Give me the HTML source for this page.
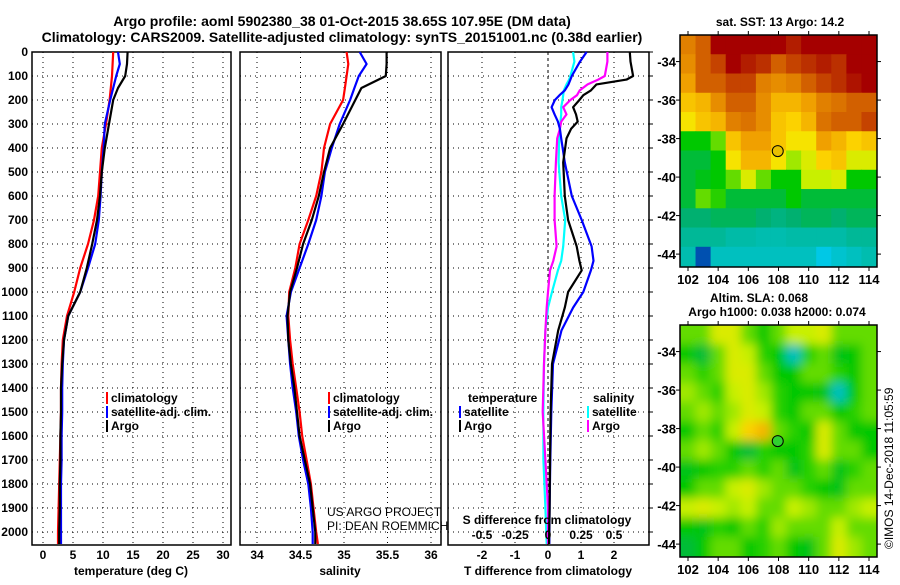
<!DOCTYPE html>
<html><head><meta charset="utf-8"><style>
body{margin:0;background:#fff;width:900px;height:580px;overflow:hidden}
svg text{font-family:"Liberation Sans",Arial,sans-serif;font-weight:bold;font-size:12px;fill:#000}
</style></head><body>
<svg id="c" width="900" height="580" xmlns="http://www.w3.org/2000/svg">
<text x="342" y="26" text-anchor="middle" style="font-size:14px">Argo profile: aoml 5902380_38 01-Oct-2015 38.65S 107.95E (DM data)</text>
<text x="342" y="42" text-anchor="middle" style="font-size:14px">Climatology: CARS2009. Satellite-adjusted climatology: synTS_20151001.nc (0.38d earlier)</text>
</svg>
<script>
// ---- profile data ----
const depthsP=[0,50,100,150,200,300,400,500,600,700,800,900,1000,1100,1200,1300,1400,1500,1600,1700,1800,1900,2000,2050];
const tempClim=[11.7,11.6,11.5,11.3,11.1,10.5,9.8,9.5,9.2,8.5,7.5,6.2,5.2,4.0,3.3,3.1,3.0,3.0,2.9,2.8,2.7,2.6,2.5,2.5];
const tempSat=[12.5,12.8,12.2,11.7,11.2,10.3,10.1,9.8,9.6,9.3,8.7,7.5,6.2,4.2,3.5,3.3,3.2,3.2,3.1,3.1,3.0,3.0,3.0,3.0];
const tempArgo=[14.1,14.0,13.7,12.5,11.7,11.0,10.3,9.8,9.5,9.0,8.2,7.3,6.2,4.2,3.5,3.2,3.0,3.0,2.9,2.9,2.8,2.8,2.7,2.7];
const salClim=[35.03,35.05,35.03,35.01,34.99,34.84,34.77,34.74,34.68,34.59,34.49,34.44,34.37,34.36,34.38,34.41,34.45,34.49,34.52,34.57,34.62,34.65,34.68,34.70];
const salSat=[35.18,35.26,35.17,35.12,35.07,34.95,34.86,34.78,34.74,34.68,34.59,34.49,34.39,34.34,34.36,34.38,34.41,34.45,34.48,34.53,34.59,34.62,34.64,34.64];
const salArgo=[35.49,35.49,35.48,35.2,35.13,34.99,34.84,34.77,34.71,34.63,34.53,34.46,34.38,34.35,34.36,34.39,34.43,34.46,34.49,34.55,34.61,34.64,34.67,34.67];
const depthsD=[0,40,100,115,135,160,180,200,230,260,290,320,360,460,600,700,810,870,910,1000,1065,1160,1300,1500,1700,1900,2050];
const tDiffArgo=[2.48,2.5,2.58,2.38,1.47,1.3,1.07,0.95,0.76,0.85,0.9,0.7,0.56,0.46,0.51,0.61,0.87,0.95,1.02,0.61,0.51,0.31,0.12,0.08,0.06,0.05,0.03];
const tDiffSat=[1.17,0.97,0.72,0.68,0.62,0.51,0.35,0.21,0.11,0.2,0.3,0.36,0.4,0.51,0.72,1.02,1.32,1.38,1.3,1.07,0.76,0.41,0.15,0.1,0.07,0.05,0.04];
const sDiffSat=[0.19,0.2,0.17,0.16,0.14,0.12,0.115,0.11,0.1,0.1,0.095,0.09,0.085,0.08,0.1,0.13,0.115,0.1,0.075,0.03,0.0,-0.02,-0.03,-0.035,-0.035,-0.02,-0.01];
const sDiffArgo=[0.45,0.45,0.43,0.38,0.3,0.24,0.22,0.17,0.115,0.14,0.1,0.09,0.07,0.06,0.05,0.05,0.065,0.04,0.015,0.0,-0.01,-0.02,-0.03,-0.04,-0.02,0.0,0.0];
const depthTicks=[0,100,200,300,400,500,600,700,800,900,1000,1100,1200,1300,1400,1500,1600,1700,1800,1900,2000];
const tempTicks=[0,5,10,15,20,25,30];
const salTicks=[34,34.5,35,35.5,36];
const tdTicks=[-2,-1,0,1,2];
const sdTicks=[-0.5,-0.25,0,0.25,0.5];
// ---- map data (1-degree cells, rows from -33 to -44, cols 102..114) ----
const lonTicks=[102,104,106,108,110,112,114];
const latTicks=[-34,-36,-38,-40,-42,-44];
const sstGrid=[
[0.8,0.85,0.95,0.95,0.95,0.95,0.95,0.92,0.95,0.95,0.95,0.95,0.95],
[0.78,0.85,0.88,0.95,0.92,0.9,0.85,0.88,0.9,0.92,0.9,0.95,0.95],
[0.75,0.85,0.85,0.88,0.88,0.8,0.78,0.8,0.85,0.88,0.9,0.93,0.95],
[0.7,0.72,0.78,0.85,0.85,0.78,0.72,0.72,0.75,0.8,0.82,0.85,0.85],
[0.65,0.7,0.72,0.8,0.82,0.78,0.7,0.68,0.72,0.82,0.85,0.85,0.88],
[0.5,0.5,0.55,0.7,0.75,0.75,0.7,0.65,0.65,0.75,0.72,0.68,0.7],
[0.45,0.45,0.5,0.65,0.72,0.72,0.65,0.58,0.62,0.68,0.7,0.62,0.62],
[0.45,0.48,0.5,0.55,0.62,0.55,0.5,0.5,0.6,0.6,0.62,0.5,0.5],
[0.45,0.55,0.52,0.45,0.45,0.45,0.45,0.5,0.45,0.45,0.45,0.45,0.45],
[0.4,0.4,0.42,0.42,0.42,0.4,0.38,0.4,0.42,0.42,0.4,0.42,0.42],
[0.35,0.35,0.35,0.33,0.33,0.32,0.32,0.33,0.33,0.33,0.33,0.35,0.35],
[0.32,0.1,0.3,0.3,0.3,0.3,0.3,0.3,0.3,0.25,0.28,0.3,0.32]];
const slaGrid=[
[0.55,0.55,0.62,0.62,0.55,0.5,0.55,0.6,0.6,0.62,0.55,0.55,0.55],
[0.5,0.45,0.55,0.62,0.6,0.52,0.5,0.3,0.52,0.55,0.48,0.5,0.55],
[0.55,0.52,0.55,0.62,0.62,0.55,0.5,0.5,0.55,0.55,0.52,0.5,0.55],
[0.58,0.55,0.52,0.6,0.62,0.58,0.52,0.5,0.5,0.48,0.3,0.5,0.55],
[0.55,0.58,0.55,0.58,0.62,0.6,0.52,0.5,0.55,0.55,0.5,0.52,0.55],
[0.5,0.55,0.52,0.6,0.68,0.72,0.55,0.52,0.5,0.62,0.55,0.5,0.5],
[0.55,0.58,0.55,0.5,0.45,0.52,0.5,0.5,0.52,0.62,0.55,0.55,0.5],
[0.48,0.5,0.52,0.52,0.55,0.52,0.55,0.48,0.52,0.55,0.48,0.52,0.55],
[0.5,0.55,0.55,0.6,0.62,0.58,0.55,0.55,0.52,0.5,0.48,0.55,0.55],
[0.6,0.62,0.6,0.58,0.6,0.55,0.55,0.6,0.58,0.55,0.55,0.58,0.6],
[0.5,0.48,0.52,0.5,0.55,0.52,0.58,0.55,0.55,0.55,0.6,0.55,0.55],
[0.45,0.5,0.55,0.55,0.5,0.52,0.55,0.5,0.48,0.55,0.62,0.58,0.55]];
const floatPos=[107.95,-38.65];

const NS="http://www.w3.org/2000/svg";
const svg=document.getElementById('c');
function mk(tag,attrs,parent){const e=document.createElementNS(NS,tag);for(const k in attrs)e.setAttribute(k,attrs[k]);(parent||svg).appendChild(e);return e;}
function txt(x,y,s,anchor,extra){const t=mk('text',Object.assign({x:x,y:y,'text-anchor':anchor||'start'},extra||{}));t.textContent=s;return t;}

const TOP=52,BOT=545;
const yD=d=>TOP+d*0.24;
const panels=[
 {name:'temperature',x0:32,x1:231,sx:v=>43+v*6},
 {name:'salinity',x0:240,x1:441,sx:v=>257+(v-34)*87},
 {name:'difference',x0:448,x1:649,sx:v=>548+v*33}];
const sxS=v=>548+v*4*33;

panels.forEach((p,pi)=>{
  const g=mk('g',{});
  
  
  depthTicks.forEach(d=>{
    const l=mk('line',{x1:p.x0,x2:p.x1,y1:yD(d),y2:yD(d),stroke:'#000','stroke-width':1,'stroke-dasharray':'1,4'},g);
    
    
  });
  const ticks=pi==0?tempTicks:pi==1?salTicks:tdTicks;
  ticks.forEach(v=>{
    const x=p.sx(v);
    const l=mk('line',{x1:x,x2:x,y1:TOP,y2:BOT,stroke:'#000','stroke-width':1,'stroke-dasharray':(pi==2&&v==0)?'3,3':'1,4'},g);
    
    
    const t=txt(x,559,String(v),'middle');
    
    
  });
  const r=mk('rect',{x:p.x0,y:TOP,width:p.x1-p.x0,height:BOT-TOP,fill:'none',stroke:'#000','stroke-width':1.5},g);
  
  
});
depthTicks.forEach(d=>{
  const t=txt(28,yD(d)+4,String(d),'end');
  
  
  const tk=mk('line',{x1:649,x2:653,y1:yD(d),y2:yD(d),stroke:'#000'});
  
  
});
[['temperature (deg C)',131],['salinity',340],['T difference from climatology',548]].forEach(a=>{
  const t=txt(a[1],575,a[0],'middle');
  
  
});

function line(depths,vals,sx,color,name){
  const pts=depths.map((d,i)=>sx(vals[i]).toFixed(1)+','+yD(d).toFixed(1)).join(' ');
  const p=mk('polyline',{points:pts,fill:'none',stroke:color,'stroke-width':2.2,'stroke-linejoin':'round'});
  
  
}
line(depthsP,tempClim,panels[0].sx,'#ff0000','temp-climatology-line');
line(depthsP,tempSat,panels[0].sx,'#0000ff','temp-satellite-line');
line(depthsP,tempArgo,panels[0].sx,'#000000','temp-argo-line');
line(depthsP,salClim,panels[1].sx,'#ff0000','sal-climatology-line');
line(depthsP,salSat,panels[1].sx,'#0000ff','sal-satellite-line');
line(depthsP,salArgo,panels[1].sx,'#000000','sal-argo-line');
line(depthsD,sDiffSat,sxS,'#00ffff','sdiff-satellite-line');
line(depthsD,sDiffArgo,sxS,'#ff00ff','sdiff-argo-line');
line(depthsD,tDiffSat,panels[2].sx,'#0000ff','tdiff-satellite-line');
line(depthsD,tDiffArgo,panels[2].sx,'#000000','tdiff-argo-line');

function legend(x,y,color,label){
  const b=mk('rect',{x:x,y:y-10,width:2,height:12,fill:color});
  
  
  const t=txt(x+5,y,label);
  
  
}
legend(106,402,'#ff0000','climatology');legend(106,416,'#0000ff','satellite-adj. clim.');legend(106,430,'#000','Argo');
legend(328,402,'#ff0000','climatology');legend(328,416,'#0000ff','satellite-adj. clim.');legend(328,430,'#000','Argo');
let t;
t=txt(468,402,'temperature');
t=txt(593,402,'salinity');
legend(459,416,'#0000ff','satellite');legend(459,430,'#000','Argo');
legend(587,416,'#00ffff','satellite');legend(587,430,'#ff00ff','Argo');
t=txt(327,516,'US ARGO PROJECT','start',{style:'font-weight:normal'});
t=txt(327,530,'PI: DEAN ROEMMICH','start',{style:'font-weight:normal'});
t=txt(547,524,'S difference from climatology','middle');
sdTicks.forEach(v=>{const tt=txt(sxS(v),539,String(v),'middle');});

// ---- maps ----
const stops=[[0,[0,0,140]],[0.25,[0,200,230]],[0.4,[0,176,112]],[0.5,[0,200,0]],[0.6,[200,240,0]],[0.66,[255,224,0]],[0.75,[240,160,0]],[0.85,[210,96,0]],[0.95,[165,0,0]],[1,[150,0,0]]];
function cmap(v){for(let i=1;i<stops.length;i++){if(v<=stops[i][0]){const a=stops[i-1],b=stops[i],f=(v-a[0])/(b[0]-a[0]);const c=a[1].map((x,k)=>Math.round(x+(b[1][k]-x)*f));return 'rgb('+c.join(',')+')';}}return 'rgb(150,0,0)';}
const defs=mk('defs',{});
const flt=mk('filter',{id:'blur',x:'-10%',y:'-10%',width:'120%',height:'120%'},defs);
mk('feGaussianBlur',{stdDeviation:5},flt);
function map(top,bot,grid,name,blur,titles,markerFill){
  const x0=680,x1=877;
  const lx=l=>x0+(l-101.47)*(x1-x0)/13.06;
  const ppd=(bot-top)/12.05;
  const ly=la=>top+(-32.62-la)*ppd;
  const cp=mk('clipPath',{id:'clip'+name},defs);
  mk('rect',{x:x0,y:top,width:x1-x0,height:bot-top},cp);
  const g=mk('g',{'clip-path':'url(#clip'+name+')'});
  
  
  const inner=mk('g',blur?{filter:'url(#blur)'}:{},g);
  grid.forEach((row,r)=>row.forEach((v,c)=>{
    const pad=blur?(c==0||c==12||r==0||r==11?12:0):0;
    const xa=lx(101.5+c),ya=ly(-32.62-r);
    const cell=mk('rect',{x:xa-(c==0?pad:0),y:ya-(r==0?pad:0),width:lx(102.5+c)-xa+0.6+(c==0||c==12?pad:0),height:ppd+0.6+(r==0||r==11?pad:0),fill:cmap(v)},inner);
    
    
  }));
  const fr=mk('rect',{x:x0,y:top,width:x1-x0,height:bot-top,fill:'none',stroke:'#000','stroke-width':1.5});
  
  
  lonTicks.forEach(l=>{
    mk('line',{x1:lx(l),x2:lx(l),y1:top-4,y2:top,stroke:'#000'});
    mk('line',{x1:lx(l),x2:lx(l),y1:bot,y2:bot+4,stroke:'#000'});
    const tt=txt(lx(l),bot+17,String(l),'middle',{style:'font-size:13px'});
    
    
  });
  latTicks.forEach(la=>{
    mk('line',{x1:x1,x2:x1+4,y1:ly(la),y2:ly(la),stroke:'#000'});
    mk('line',{x1:x0-4,x2:x0,y1:ly(la),y2:ly(la),stroke:'#000'});
    const tt=txt(676,ly(la)+5,String(la),'end',{style:'font-size:13px'});
    
    
  });
  const m=mk('circle',{cx:lx(floatPos[0]),cy:ly(floatPos[1]),r:5.5,fill:markerFill,stroke:'#000','stroke-width':1});
  
  
  titles.forEach(a=>{const tt=txt(a[1],a[2],a[0],'middle');});
}
map(35,267,sstGrid,'sst',false,[['sat. SST: 13 Argo: 14.2',780,26]],'#e8c000');
map(325,557,slaGrid,'sla',true,[['Altim. SLA: 0.068',759,302],['Argo h1000: 0.038 h2000: 0.074',777,316]],'#30d030');
t=txt(0,0,'©IMOS 14-Dec-2018 11:05:59','start',{transform:'translate(893,549) rotate(-90)',style:'font-weight:normal;font-size:12px'});


</script>
</body></html>
